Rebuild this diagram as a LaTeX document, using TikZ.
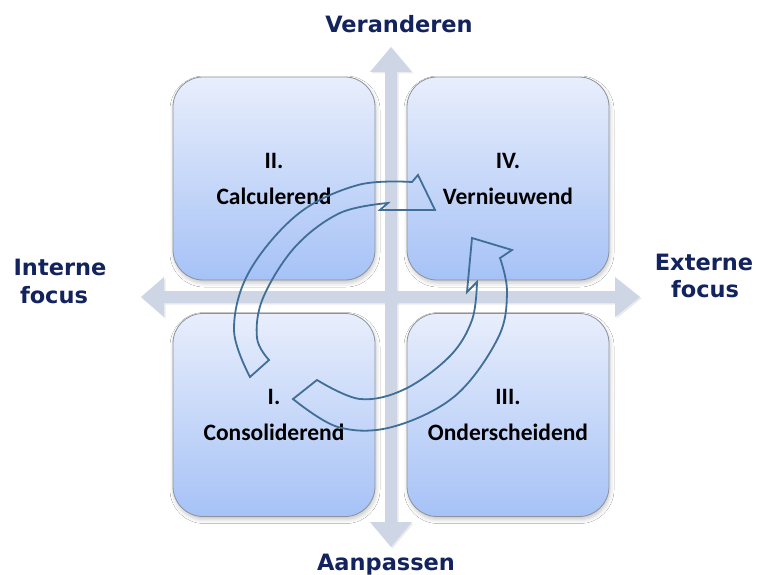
\documentclass[tikz,border=0pt]{standalone}
\usepackage{fontspec}
\newfontfamily\labfont{DejaVu Sans}
\newfontfamily\boxfont{Carlito}
\usetikzlibrary{shadows.blur}
\definecolor{navy}{RGB}{19,35,94}
\definecolor{axisc}{RGB}{206,214,229}
\definecolor{boxtop}{RGB}{232,238,252}
\definecolor{boxbot}{RGB}{166,194,246}
\definecolor{arrc}{RGB}{64,110,150}
\definecolor{boxline}{RGB}{140,145,155}
\begin{document}
\begin{tikzpicture}[x=1pt,y=-1pt,
  quad/.style={draw=boxline, line width=0.8pt, rounded corners=30pt,
    top color=boxtop, bottom color=boxbot,
    minimum width=202pt, minimum height=203pt, inner sep=0pt, align=center,
    font=\boxfont\bfseries\fontsize{23.5}{36}\selectfont,
    blur shadow={shadow xshift=1pt, shadow yshift=-3pt, shadow blur radius=4pt, shadow opacity=22}},
  lab/.style={text=navy, font=\labfont\bfseries\fontsize{22.5}{27}\selectfont, anchor=base, inner sep=0pt},
  axisfill/.style={fill=axisc, draw=none},
  axisshadow/.style={fill=black, opacity=0.08, draw=none},
  cyc/.style={draw=arrc, line width=1.8pt, line join=miter}
]
\useasboundingbox (0,0) rectangle (760,575);
\fill[white] (0,0) rectangle (760,575);

% axes
\coordinate (c) at (391,297);
\foreach \s/\o in {axisshadow/1.5, axisfill/0}{
  \path[\s, shift={(\o,\o)}]
    (391,47) -- (412,72) -- (397,72) -- (397,522) -- (412,522) -- (391,547)
    -- (370,522) -- (385,522) -- (385,72) -- (370,72) -- cycle;
  \path[\s, shift={(\o,\o)}]
    (141,297) -- (164,277) -- (164,291) -- (615,291) -- (615,277) -- (640,297)
    -- (615,317) -- (615,303) -- (164,303) -- (164,317) -- cycle;
}

% quadrants
\node[quad] (q2) at (274,178.5) {II.\\Calculerend};
\node[quad] (q4) at (508,178.5) {IV.\\Vernieuwend};
\node[quad] (q1) at (274,415) {I.\\Consoliderend};
\node[quad] (q3) at (508,415) {III.\\Onderscheidend};

% axis labels
\node[lab] (ver) at (399,33) {Veranderen};
\node[lab] (aan) at (386,570) {Aanpassen};
\node[lab] (int1) at (60,275) {Interne};
\node[lab] (int2) at (54,303) {focus};
\node[lab] (ext1) at (704,270) {Externe};
\node[lab] (ext2) at (705,297) {focus};

% circular arrow 1 (from I. up over II. to IV.)
\draw[cyc] plot[smooth, tension=0.6] coordinates {(250,377) (234,330) (249,272) (298,214) (358,185) (412,182)}
  -- (418,175) -- (435,210) -- (380,210)
  -- plot[smooth, tension=0.6] coordinates {(388,203) (340,213) (295,247) (263,298) (257,338) (269,360)}
  -- cycle;

% circular arrow 2 (from I. down via III. up to IV.)
\draw[cyc] plot[smooth, tension=0.6] coordinates {(293,399) (338,427) (392,427) (455,396) (498,338) (507,292) (500,258)}
  -- (512,250) -- (472,238) -- (467,292)
  -- plot[smooth, tension=0.6] coordinates {(477,282) (472,320) (450,356) (405,389) (360,399) (317,380)}
  -- cycle;
\end{tikzpicture}
\end{document}
